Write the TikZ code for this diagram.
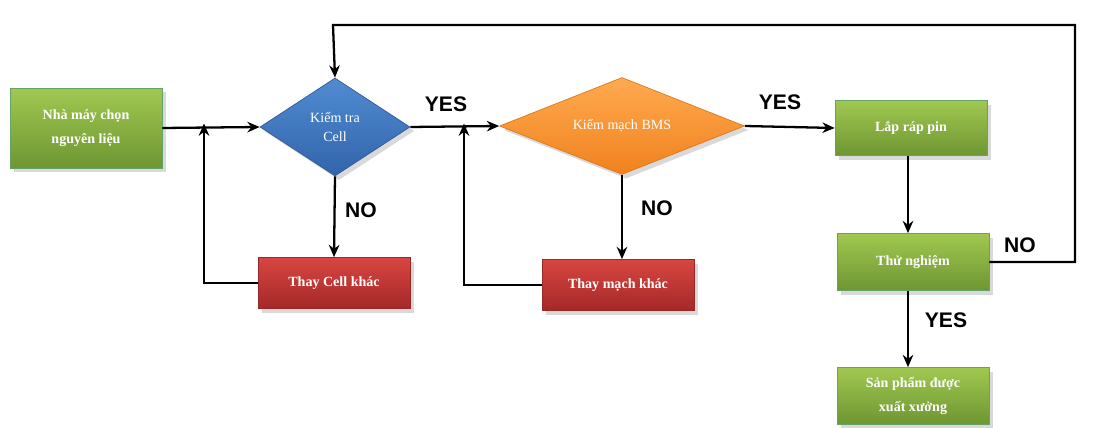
\documentclass[tikz,border=0pt]{standalone}
\usepackage{fontspec}
\setmainfont{Liberation Serif}
\newfontfamily\lab{Liberation Sans}
\usetikzlibrary{shapes.geometric,shadows,arrows.meta}
\begin{document}
\begin{tikzpicture}[x=0.02cm,y=-0.02cm,
 box/.style={rectangle,minimum width=3.04cm,font=\bfseries\fontsize{8}{14}\selectfont,text=white,align=center,drop shadow={opacity=0.3}},
 gbox/.style={box,top color=green!55!black!60!lime!90,bottom color=green!40!black!70!lime,draw=green!40!black!60,top color={rgb,255:red,160;green,200;blue,80},bottom color={rgb,255:red,110;green,150;blue,50}},
 rbox/.style={box,minimum height=1.02cm,draw={rgb,255:red,150;green,40;blue,40},top color={rgb,255:red,215;green,70;blue,65},bottom color={rgb,255:red,165;green,40;blue,40}},
 dia/.style={diamond,aspect=1.9,inner sep=0pt,font=\fontsize{8}{11}\selectfont,text=white,align=center,drop shadow={opacity=0.3}},
 ar/.style={line width=1.3pt,-{Stealth[length=7pt,width=6pt]}},
 ln/.style={line width=1.3pt},
 lbl/.style={font=\lab\bfseries\fontsize{12}{12}\selectfont}]
\useasboundingbox (0,0) rectangle (1100,428);
\node[gbox,minimum height=1.6cm] (a) at (86,128) {Nhà máy chọn\\nguyên liệu};
\node[dia,minimum width=3.0cm,minimum height=1.96cm,draw={rgb,255:red,50;green,90;blue,150},top color={rgb,255:red,80;green,140;blue,210},bottom color={rgb,255:red,50;green,100;blue,170}] (b) at (335,127) {Kiểm tra\\Cell};
\node[dia,minimum width=4.9cm,minimum height=1.94cm,draw={rgb,255:red,220;green,120;blue,30},top color={rgb,255:red,255;green,170;blue,80},bottom color={rgb,255:red,240;green,130;blue,30}] (c) at (622,126) {Kiểm mạch BMS};
\node[rbox] (r1) at (334,283) {Thay Cell khác};
\node[rbox] (r2) at (618,285) {Thay mạch khác};
\node[gbox,minimum height=1.1cm] (d) at (911,128) {Lắp ráp pin};
\node[gbox,minimum height=1.14cm] (e) at (913,262) {Thử nghiệm};
\node[gbox,minimum height=1.14cm] (f) at (913,396) {Sản phẩm được\\xuất xưởng};
\coordinate (j1) at (204,127);
\coordinate (j2) at (464,127);
\draw[ar] (a.east) -- (b.west);
\draw[ar] (b.south) -- (r1.north);
\draw[ln] (r1.west) -| (j1);
\draw[ar] (r1.west) -| ([yshift=2]j1);
\draw[ar] (b.east) -- (c.west);
\draw[ar] (c.south) -- (c.south |- r2.north);
\draw[ar] (r2.west) -| ([yshift=2]j2);
\draw[ar] (c.east) -- (d.west);
\draw[ar] (d.south -| 908,0) -- (e.north -| 908,0);
\draw[ar] (e.south -| 908,0) -- (f.north -| 908,0);
\coordinate (t1) at (1075,262);
\coordinate (t2) at (1075,25);
\coordinate (t3) at (333,25);
\draw[ar] (e.east) -- (t1) -- (t2) -- (t3) -- (b.north);
\node[lbl] (n1) at (361,210) {NO};
\node[lbl] (n2) at (446,104) {YES};
\node[lbl] (n3) at (657,208) {NO};
\node[lbl] (n4) at (780,102) {YES};
\node[lbl] (n5) at (1020,245) {NO};
\node[lbl] (n6) at (946,320) {YES};
\end{tikzpicture}
\end{document}
